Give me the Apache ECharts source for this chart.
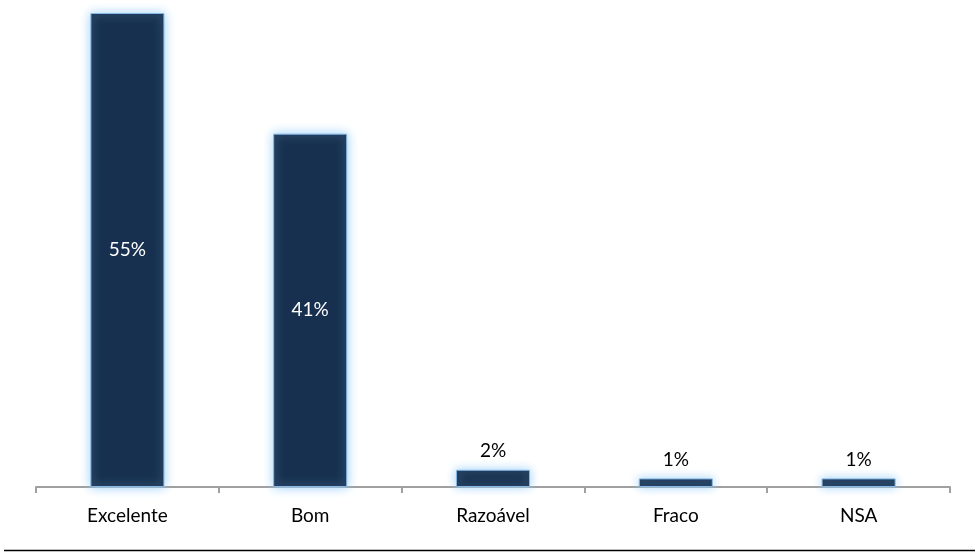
<!DOCTYPE html>
<html>
<head>
<meta charset="utf-8">
<style>
  html, body { margin: 0; padding: 0; background: #fff; }
  #chart { width: 975px; height: 553px; }
</style>
<script src="https://cdn.jsdelivr.net/npm/echarts@6/dist/echarts.min.js"></script>
</head>
<body>
<div id="chart"></div>
<script>
const categories = ['Excelente', 'Bom', 'Razoável', 'Fraco', 'NSA'];
const shares = [55, 41, 2, 1, 1];

const FONT = 'Lato, "Open Sans", sans-serif';

const chart = echarts.init(document.getElementById('chart'), null, { renderer: 'canvas' });

// Tall bars carry their label inside in white, short bars above in black
const seriesData = shares.map(v => ({
  value: v,
  label: v >= 10
    ? { position: 'inside', color: '#ffffff' }
    : { position: 'top', color: '#000000', distance: 9 }
}));

chart.setOption({
  animation: false,
  grid: { left: 36, right: 25, top: 13, bottom: 66, containLabel: false },
  xAxis: {
    type: 'category',
    data: categories,
    axisLine: { show: true, lineStyle: { color: '#a0a0a0', width: 2 } },
    axisTick: { show: true, length: 6, alignWithLabel: false, lineStyle: { color: '#a0a0a0', width: 2 } },
    axisLabel: { color: '#000', fontSize: 19, fontFamily: FONT, margin: 19 }
  },
  yAxis: {
    type: 'value',
    min: 0,
    max: 55,
    show: false,
    splitLine: { show: false }
  },
  series: [{
    type: 'bar',
    data: seriesData,
    barWidth: '40.5%',
    itemStyle: {
      color: '#17304f',
      borderColor: '#86b9e6',
      borderWidth: 1,
      shadowColor: 'rgba(150, 205, 250, 0.95)',
      shadowBlur: 10,
      shadowOffsetX: 0,
      shadowOffsetY: 0
    },
    label: {
      show: true,
      fontSize: 19,
      fontFamily: FONT,
      formatter: p => p.value + '%'
    }
  }],
  graphic: [{
    type: 'line',
    shape: { x1: 4, y1: 550.5, x2: 975, y2: 550.5 },
    style: { stroke: '#000', lineWidth: 1.5 },
    silent: true
  }]
});
</script>
</body>
</html>
